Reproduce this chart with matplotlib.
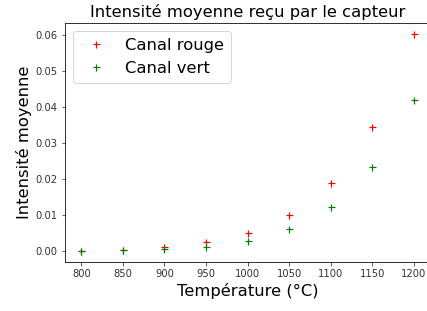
import matplotlib

matplotlib.use("Agg")
import matplotlib.pyplot as plt

temperatures = [800, 850, 900, 950, 1000, 1050, 1100, 1150, 1200]
canal_rouge = [0.0, 0.0003, 0.0010, 0.0025, 0.0049, 0.0101, 0.0188, 0.0344, 0.0603]
canal_vert = [0.0, 0.0002, 0.0005, 0.0011, 0.0029, 0.0060, 0.0121, 0.0232, 0.0418]

fig = plt.figure(figsize=(427 / 72, 311 / 72), dpi=72)
ax = fig.add_axes([0.1515, 0.1576, 0.857, 0.7685])

ax.plot(temperatures, canal_rouge, "+", color="red", markersize=7,
        markeredgewidth=1.2, label="Canal rouge")
ax.plot(temperatures, canal_vert, "+", color="green", markersize=7,
        markeredgewidth=1.2, label="Canal vert")

ax.set_xlim(780, 1220)
ax.set_ylim(-0.00305, 0.06325)
ax.set_xticks(temperatures)
ax.tick_params(labelsize=10, colors="#333333")
ax.set_title("Intensité moyenne reçu par le capteur", fontsize=16.4)
ax.set_xlabel("Température (°C)", fontsize=16.4)
ax.set_ylabel("Intensité moyenne", fontsize=16.4)
ax.legend(loc="upper left", fontsize=16.4)

fig.savefig("out.png", dpi=72)
